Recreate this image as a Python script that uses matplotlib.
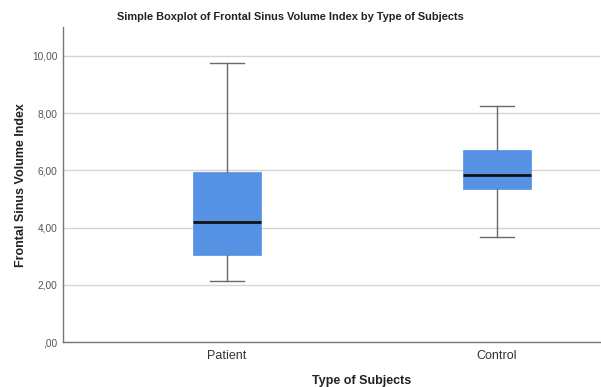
import matplotlib
matplotlib.use('Agg')
import matplotlib.pyplot as plt

plt.rcParams['font.family'] = ['Liberation Sans', 'DejaVu Sans']

# Five-number summaries per group
groups = ['Patient', 'Control']
whislo = [2.15, 3.67]
q1 = [3.05, 5.36]
med = [4.20, 5.85]
q3 = [5.94, 6.72]
whishi = [9.75, 8.26]
yticks = [0, 2, 4, 6, 8, 10]
ytick_labels = [',00', '2,00', '4,00', '6,00', '8,00', '10,00']


def main():
    stats = []
    for i, g in enumerate(groups):
        stats.append(dict(label=g, whislo=whislo[i], q1=q1[i], med=med[i],
                          q3=q3[i], whishi=whishi[i], fliers=[]))

    fig = plt.figure(figsize=(6.01, 3.87), dpi=100)
    ax = fig.add_axes([0.105, 0.116, 0.893, 0.814])

    ax.bxp(stats, positions=[1, 2], widths=0.252, patch_artist=True,
           showfliers=False, zorder=3,
           boxprops=dict(facecolor='#5592E3', edgecolor='#5592E3', linewidth=0.5),
           medianprops=dict(color='#111111', linewidth=2),
           whiskerprops=dict(color='#6a6a6a', linewidth=1),
           capprops=dict(color='#6a6a6a', linewidth=1),
           capwidths=0.126)

    ax.set_xlim(1 - 0.607, 2 + 0.381)
    ax.set_ylim(0, 11)
    ax.set_yticks(yticks)
    ax.set_yticklabels(ytick_labels)
    ax.yaxis.grid(True, color='#d4d4d4', linewidth=1, zorder=0)
    ax.set_axisbelow(True)
    ax.tick_params(axis='both', length=0)
    ax.tick_params(axis='y', labelsize=7.3, colors='#555555', pad=4)
    ax.tick_params(axis='x', labelsize=9, colors='#333333', pad=6)

    for side in ('top', 'right'):
        ax.spines[side].set_visible(False)
    for side in ('left', 'bottom'):
        ax.spines[side].set_color('#777777')
        ax.spines[side].set_linewidth(1)

    fig.text(290 / 601, 1 - 17 / 387,
             'Simple Boxplot of Frontal Sinus Volume Index by Type of Subjects',
             fontsize=7.9, fontweight='bold', color='#222222',
             ha='center', va='center')
    ax.set_ylabel('Frontal Sinus Volume Index', fontsize=9, fontweight='bold',
                  color='#222222')
    ax.yaxis.set_label_coords(-36 / 537, 0.5)
    ax.set_xlabel('Type of Subjects', fontsize=9, fontweight='bold',
                  color='#222222')
    ax.xaxis.set_label_coords(0.557, -0.105)

    fig.savefig('out.png', dpi=100)


if __name__ == "__main__":
    main()
